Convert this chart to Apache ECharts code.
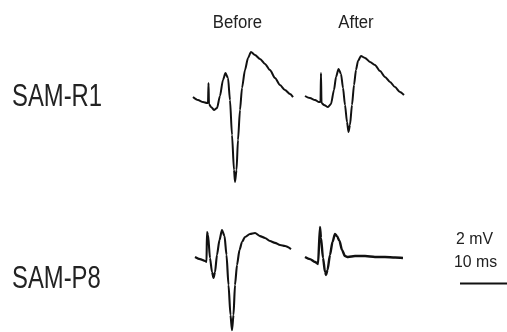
<!DOCTYPE html>
<html><head><meta charset="utf-8">
<script src="https://cdn.jsdelivr.net/npm/echarts@6/dist/echarts.min.js"></script>
<style>html,body{margin:0;padding:0;background:#fff}#c{width:507px;height:332px}</style>
</head><body><div id="c"></div>
<script>
// time in ms, potential in mV
const r1BeforeT = [0,1.06,2.13,2.98,3.19,3.30,3.40,3.83,4.47,5.11,5.74,6.38,6.91,7.45,7.87,8.30,8.72,8.94,9.26,9.57,10.0,10.43,11.06,11.70,12.34,13.19,14.26,15.32,16.38,17.45,18.51,19.57,20.64,21.28];
const r1BeforeV = [0.04,-0.09,-0.17,-0.21,-0.21,0.64,-0.26,-0.38,-0.51,-0.43,0.09,0.77,1.06,0.85,-0.09,-1.57,-3.06,-3.57,-3.06,-1.79,-0.51,0.43,1.19,1.70,1.96,1.83,1.66,1.45,1.19,0.85,0.55,0.34,0.17,0.04];
const r1AfterT = [0,1.06,2.13,2.98,3.30,3.40,3.51,4.04,4.89,5.53,6.17,6.60,7.13,7.66,8.09,8.51,8.94,9.26,9.57,10.0,10.43,10.85,11.28,11.91,12.77,13.83,14.89,15.96,17.02,18.09,19.15,20.21,21.06];
const r1AfterV = [0,-0.09,-0.17,-0.26,-0.26,0.98,-0.30,-0.38,-0.47,-0.34,0.26,0.81,1.15,0.94,0.34,-0.38,-1.11,-1.53,-1.23,-0.38,0.47,1.11,1.49,1.70,1.62,1.45,1.32,1.06,0.81,0.60,0.38,0.17,0.04];
const p8BeforeT = [0,1.06,2.13,2.45,2.55,2.77,3.19,3.62,3.94,4.26,4.68,5.21,5.74,6.28,6.70,7.13,7.55,7.87,8.19,8.51,8.94,9.47,10.0,10.64,11.70,12.77,13.83,14.89,15.96,17.02,18.09,19.15,20.43];
const p8BeforeV = [0,-0.09,-0.17,-0.21,1.06,0.94,-0.04,-0.64,-0.89,-0.64,0.09,0.72,1.15,0.89,0.09,-1.19,-2.47,-3.11,-2.47,-1.19,-0.34,0.30,0.64,0.85,0.98,1.02,0.89,0.81,0.68,0.60,0.51,0.47,0.34];
const p8AfterT = [0,1.06,2.13,2.77,3.19,3.40,3.83,4.26,4.47,4.79,5.32,5.85,6.38,6.81,7.34,7.87,8.51,9.15,10.64,12.77,14.89,17.02,19.15,20.85];
const p8AfterV = [0,-0.09,-0.21,-0.30,1.28,0.81,-0.04,-0.64,-0.77,-0.55,0.09,0.64,0.98,0.89,0.68,0.30,0.04,0,0.04,0.04,0,0,-0.02,-0.04];
const scaleBarT = [0,10.2];
const scaleBarV = [0,0];
const rowLabels = ['SAM-R1','SAM-P8'];
const colLabels = ['Before','After'];
const scaleLabels = ['2 mV','10 ms'];

const zip = (t,v) => t.map((x,i)=>[x,v[i]]);
const traces = [
  {t:r1BeforeT, v:r1BeforeV, left:193, top:39.25, w:2},
  {t:r1AfterT, v:r1AfterV, left:305, top:37.25, w:2},
  {t:p8BeforeT, v:p8BeforeV, left:195, top:198.25, w:2.1},
  {t:p8AfterT, v:p8AfterV, left:305, top:198.25, w:2.4},
  {t:scaleBarT, v:scaleBarV, left:460, top:224.75, w:2}
];
const grid=[], xAxis=[], yAxis=[], series=[];
traces.forEach((tr,i)=>{
  grid.push({left:tr.left, top:tr.top, width:112.8, height:152.75, outerBoundsMode:'none', containLabel:false});
  xAxis.push({type:'value', gridIndex:i, min:0, max:24, show:false});
  yAxis.push({type:'value', gridIndex:i, min:-4, max:2.5, show:false});
  series.push({type:'line', xAxisIndex:i, yAxisIndex:i, data:zip(tr.t,tr.v), showSymbol:false,
    smooth:0.25, smoothMonotone:'x', lineStyle:{color:'#111', width:tr.w}, silent:true, animation:false});
});
const font = 'Liberation Sans, Arial, sans-serif';
const txt = (text,x,y,size,sx,align)=>({type:'text', x:x, y:y, scaleX:sx, scaleY:1, silent:true,
  style:{text:text, fill:'#222', font:size+'px '+font, textAlign:align||'left', textVerticalAlign:'bottom'}});
const chart = echarts.init(document.getElementById('c'), null, {renderer:'canvas'});
chart.setOption({
  animation:false,
  grid, xAxis, yAxis, series,
  graphic:[
    txt(rowLabels[0], 12, 113, 32, 0.745),
    txt(rowLabels[1], 12, 295.5, 32, 0.745),
    txt(colLabels[0], 237.5, 32, 18, 0.93, 'center'),
    txt(colLabels[1], 356, 32, 18, 0.93, 'center'),
    txt(scaleLabels[0], 456, 247.5, 16.5, 0.96),
    txt(scaleLabels[1], 454, 271, 16.5, 0.96)
  ]
});
</script></body></html>
